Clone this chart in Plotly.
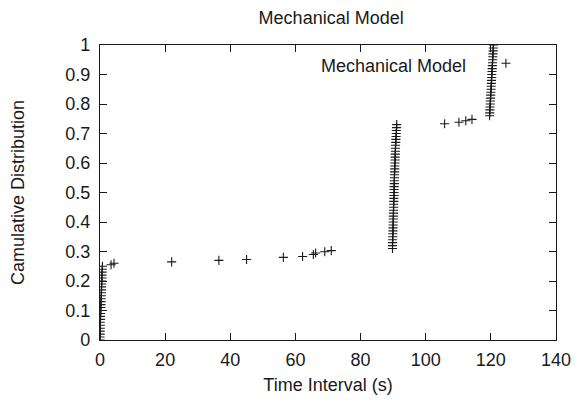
import plotly.graph_objects as go

# Cluster near t = 0
c1_x = [0.0, 0.0, 0.05, 0.05, 0.1, 0.1, 0.1, 0.15, 0.15, 0.2, 0.25, 0.25, 0.3,
        0.3, 0.35, 0.4, 0.4, 0.45, 0.5, 0.5, 0.55, 0.6, 0.6, 0.65, 0.7, 0.75]
c1_y = [0.00, 0.01, 0.02, 0.03, 0.04, 0.05, 0.06, 0.07, 0.08, 0.09, 0.10, 0.11, 0.12,
        0.13, 0.14, 0.15, 0.16, 0.17, 0.18, 0.19, 0.20, 0.21, 0.22, 0.23, 0.24, 0.25]

# Sparse points between clusters
s1_x = [3.4, 4.3, 22.0, 36.5, 45.0, 56.3, 62.2, 65.5, 66.2, 69.0, 71.0]
s1_y = [0.255, 0.260, 0.265, 0.270, 0.273, 0.280, 0.283, 0.290, 0.295, 0.299, 0.303]

# Cluster near t = 90
c2_x = [89.8, 89.8, 89.85, 89.85, 89.9, 89.9, 89.95, 89.95, 90.0, 90.0, 90.05,
        90.05, 90.1, 90.1, 90.15, 90.15, 90.2, 90.2, 90.25, 90.25, 90.3, 90.3,
        90.35, 90.35, 90.4, 90.4, 90.45, 90.5, 90.5, 90.55, 90.6, 90.6, 90.65,
        90.7, 90.7, 90.75, 90.8, 90.85, 90.9, 90.95, 91.0, 91.05, 91.1]
c2_y = [0.31, 0.32, 0.33, 0.34, 0.35, 0.36, 0.37, 0.38, 0.39, 0.40, 0.41,
        0.42, 0.43, 0.44, 0.45, 0.46, 0.47, 0.48, 0.49, 0.50, 0.51, 0.52,
        0.53, 0.54, 0.55, 0.56, 0.57, 0.58, 0.59, 0.60, 0.61, 0.62, 0.63,
        0.64, 0.65, 0.66, 0.67, 0.68, 0.69, 0.70, 0.71, 0.72, 0.73]

# Sparse points after t = 90
s2_x = [105.8, 110.2, 112.3, 114.2]
s2_y = [0.733, 0.738, 0.743, 0.748]

# Cluster near t = 120
c3_x = [119.6, 119.65, 119.7, 119.75, 119.8, 119.85, 119.9, 119.95, 120.0, 120.05,
        120.1, 120.15, 120.2, 120.25, 120.3, 120.35, 120.4, 120.45, 120.5, 120.55,
        120.6, 120.65, 120.7, 120.75, 120.8]
c3_y = [0.76, 0.77, 0.78, 0.79, 0.80, 0.81, 0.82, 0.83, 0.84, 0.85,
        0.86, 0.87, 0.88, 0.89, 0.90, 0.91, 0.92, 0.93, 0.94, 0.95,
        0.96, 0.97, 0.98, 0.99, 1.00]

x_all = c1_x + s1_x + c2_x + s2_x + c3_x
y_all = c1_y + s1_y + c2_y + s2_y + c3_y

x_ticks = [0, 20, 40, 60, 80, 100, 120, 140]
y_ticks = [0, 0.1, 0.2, 0.3, 0.4, 0.5, 0.6, 0.7, 0.8, 0.9, 1]
y_labels = ["0", "0.1", "0.2", "0.3", "0.4", "0.5", "0.6", "0.7", "0.8", "0.9", "1"]

ink = "#1a1a1a"
font = "Liberation Sans, Arial, sans-serif"
fsize = 18

fig = go.Figure()
fig.add_trace(go.Scatter(
    x=x_all, y=y_all, mode="markers", name="",
    marker=dict(symbol="cross-thin", size=6.5, line=dict(width=1.1, color=ink), color=ink),
    showlegend=True,
))

axis_common = dict(
    showline=True, linecolor=ink, linewidth=1.2, mirror="ticks",
    ticks="inside", ticklen=7, tickcolor=ink, tickwidth=1,
    showgrid=False, zeroline=False, automargin=False,
    tickfont=dict(family=font, size=fsize, color=ink),
)

fig.update_layout(
    width=575, height=395,
    margin=dict(l=92, r=27, t=37, b=63),
    paper_bgcolor="white", plot_bgcolor="white",
    title=dict(text="Mechanical Model", x=0.562, xanchor="center", y=0.975, yanchor="middle",
               font=dict(family=font, size=fsize, color=ink)),
    xaxis=dict(range=[0, 140], tickvals=x_ticks, ticklabelstandoff=3,
               title=dict(text="Time Interval (s)", font=dict(family=font, size=fsize, color=ink), standoff=9),
               **axis_common),
    yaxis=dict(range=[0, 1], tickvals=y_ticks, ticktext=y_labels, ticklabelstandoff=5,
               title=dict(text="Camulative Distribution", font=dict(family=font, size=fsize, color=ink), standoff=35),
               **axis_common),
    legend=dict(x=0.945, y=1.0, xanchor="right", yanchor="top",
                bgcolor="rgba(0,0,0,0)",
                font=dict(family=font, size=fsize, color=ink)),
    annotations=[dict(text="Mechanical Model", xref="paper", yref="paper",
                      x=0.806, y=0.929, xanchor="right", yanchor="middle", showarrow=False,
                      font=dict(family=font, size=fsize, color=ink))],
)

fig.write_html("out.html")
